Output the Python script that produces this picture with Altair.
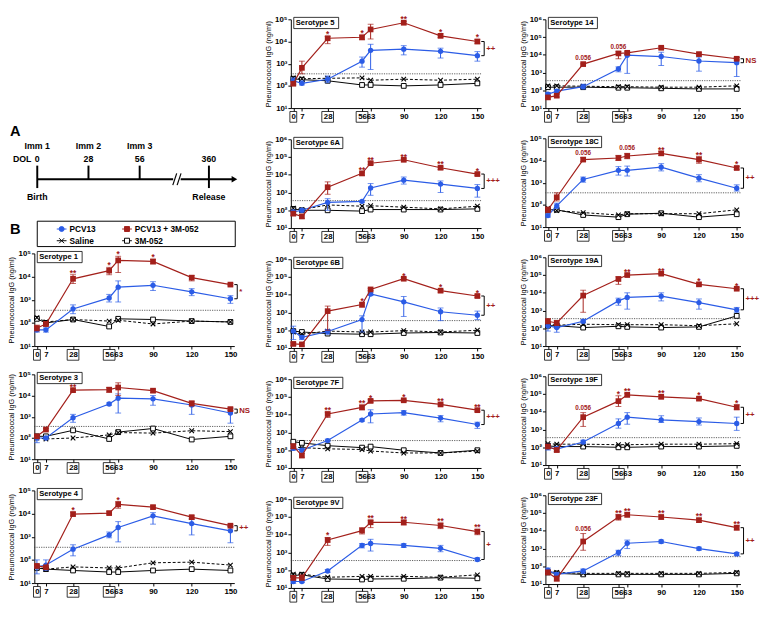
import math
import altair as alt
import pandas as pd

FONT = "Liberation Sans"
RED = "#A3201B"
BLUE = "#2B5CE6"
X_PATH = "M-1,-1L1,1M-1,1L1,-1"

DAYS = [0, 7, 28, 56, 63, 90, 120, 150]
BOXED_DAYS = [0, 28, 56]
GROUPS = ["PCV13", "PCV13 + 3M-052", "Saline", "3M-052"]
LLOQ = 350
Y_LABEL = "Pneumococcal IgG (ng/ml)"

MID = ["5", "6A", "6B", "7F", "9V"]
RIGHT = ["14", "18C", "19A", "19F", "23F"]

Y_TOP = {"1": 1e5, "3": 1e5, "4": 1e5, "5": 1e5, "6A": 1e6, "6B": 1e6, "7F": 1e6,
         "9V": 1e6, "14": 1e6, "18C": 1e5, "19A": 1e6, "19F": 1e6, "23F": 1e6}

# PCV13 (blue)
PCV13_MEAN = {
    "1": [50, 50, 400, 1200, 3500, 4200, 2200, 1100],
    "3": [100, 100, 900, 4000, 7500, 7000, 3600, 1500],
    "4": [50, 60, 290, 1200, 2500, 8000, 3700, 1800],
    "5": [170, 130, 200, 1300, 4000, 4500, 3600, 2300],
    "6A": [80, 100, 280, 320, 1800, 5000, 3000, 1700],
    "6B": [90, 40, 85, 400, 11000, 4000, 1100, 700],
    "7F": [130, 100, 350, 5000, 11000, 13000, 6500, 2800],
    "9V": [23, 23, 90, 2500, 3200, 2500, 1700, 400],
    "14": [60, 90, 160, 1600, 9500, 8000, 4500, 3600],
    "18C": [33, 90, 1400, 3600, 3600, 5000, 1600, 560],
    "19A": [140, 110, 250, 3500, 5500, 6500, 2800, 1100],
    "19F": [100, 80, 200, 2200, 5000, 3500, 2800, 2200],
    "23F": [60, 35, 55, 600, 2000, 2500, 1000, 500],
}
PCV13_HI = {
    "1": [60, 60, 600, 1700, 6500, 6000, 3000, 1500],
    "3": [120, 115, 1300, 4500, 12000, 10000, 5000, 2500],
    "4": [100, 100, 450, 1600, 4500, 11000, 5500, 2800],
    "5": [230, 170, 280, 2000, 7500, 6500, 5000, 3500],
    "6A": [100, 120, 450, 360, 3200, 7500, 4500, 2800],
    "6B": [170, 50, 110, 650, 13000, 8000, 1800, 1200],
    "7F": [160, 120, 420, 5800, 19000, 17000, 9000, 3800],
    "9V": [28, 26, 110, 3200, 5500, 3100, 2500, 500],
    "14": [75, 110, 220, 2100, 10500, 14000, 7500, 7000],
    "18C": [38, 120, 1800, 5300, 5600, 7200, 2300, 800],
    "19A": [200, 180, 300, 5000, 10000, 10000, 4500, 1500],
    "19F": [150, 110, 250, 4000, 9000, 6000, 4500, 5000],
    "23F": [80, 45, 70, 800, 3000, 3000, 1200, 600],
}
PCV13_LO = {
    "1": [40, 40, 250, 800, 800, 2500, 1500, 700],
    "3": [60, 90, 550, 3500, 1500, 3500, 1300, 500],
    "4": [25, 35, 150, 900, 600, 3500, 1200, 550],
    "5": [120, 110, 140, 700, 550, 2500, 1800, 1300],
    "6A": [60, 80, 100, 280, 700, 3000, 1000, 550],
    "6B": [30, 30, 60, 80, 9000, 600, 350, 400],
    "7F": [100, 80, 300, 4300, 3500, 9500, 4000, 1700],
    "9V": [18, 20, 75, 1800, 1200, 1900, 1100, 330],
    "14": [50, 70, 120, 1100, 900, 2500, 1200, 600],
    "18C": [28, 70, 1050, 2200, 2000, 3400, 1100, 420],
    "19A": [70, 60, 200, 2000, 1200, 3500, 1200, 800],
    "19F": [70, 60, 160, 1200, 2000, 2500, 1800, 900],
    "23F": [45, 28, 40, 400, 1000, 2000, 800, 400],
}

# PCV13 + 3M-052 (red)
COMBO_MEAN = {
    "1": [60, 90, 8000, 18000, 50000, 45000, 9000, 4500],
    "3": [120, 250, 18000, 19000, 24000, 17000, 4300, 2300],
    "4": [55, 48, 9500, 10500, 25000, 19000, 7000, 3000],
    "5": [125, 650, 14000, 15500, 35000, 70000, 18000, 10000],
    "6A": [65, 45, 2000, 12000, 45000, 70000, 25000, 11000],
    "6B": [17, 16, 1200, 2800, 20000, 80000, 17000, 8500],
    "7F": [170, 50, 11000, 26000, 60000, 65000, 38000, 18000],
    "9V": [37, 37, 5000, 17000, 50000, 50000, 33000, 15000],
    "14": [40, 50, 3000, 12000, 13000, 25000, 11000, 6000],
    "18C": [60, 220, 11000, 13000, 16000, 21000, 11000, 4600],
    "19A": [250, 200, 7000, 60000, 100000, 120000, 30000, 17000],
    "19F": [110, 70, 5000, 40000, 90000, 70000, 55000, 18000],
    "23F": [45, 20, 2500, 60000, 80000, 60000, 40000, 15000],
}
COMBO_HI = {
    "1": [80, 110, 12000, 25000, 75000, 55000, 11000, 5000],
    "3": [140, 280, 20000, 24000, 40000, 20000, 5500, 2600],
    "4": [65, 55, 11500, 12000, 33000, 22000, 8000, 3300],
    "5": [150, 1300, 17000, 19000, 60000, 80000, 22000, 12500],
    "6A": [80, 55, 4000, 14000, 55000, 80000, 30000, 13000],
    "6B": [20, 19, 2300, 3500, 23000, 90000, 20000, 10000],
    "7F": [220, 65, 14000, 35000, 70000, 75000, 45000, 21000],
    "9V": [50, 55, 7000, 25000, 65000, 62000, 45000, 20000],
    "14": [50, 60, 3300, 15000, 15000, 30000, 13000, 7000],
    "18C": [80, 350, 13500, 17000, 21000, 25000, 15000, 5400],
    "19A": [350, 280, 14000, 80000, 115000, 135000, 36000, 19000],
    "19F": [140, 90, 9000, 80000, 110000, 85000, 65000, 25000],
    "23F": [60, 28, 7000, 80000, 100000, 75000, 50000, 19000],
}
COMBO_LO = {
    "1": [45, 70, 5000, 12000, 15000, 35000, 6500, 4000],
    "3": [100, 220, 15000, 14000, 10000, 14000, 3200, 2000],
    "4": [45, 42, 8000, 9500, 17000, 16000, 6000, 2700],
    "5": [110, 350, 8000, 12000, 13000, 60000, 15000, 8000],
    "6A": [50, 35, 800, 9000, 38000, 60000, 20000, 9000],
    "6B": [14, 13, 100, 2000, 17000, 70000, 14000, 7000],
    "7F": [120, 40, 7000, 19000, 50000, 55000, 32000, 15000],
    "9V": [28, 28, 2500, 11000, 25000, 35000, 22000, 10000],
    "14": [33, 42, 2700, 6000, 11000, 21000, 9000, 5200],
    "18C": [45, 150, 9000, 10000, 12000, 17000, 7500, 3900],
    "19A": [180, 150, 800, 30000, 90000, 105000, 25000, 15000],
    "19F": [90, 55, 1500, 20000, 70000, 55000, 45000, 13000],
    "23F": [35, 15, 800, 40000, 60000, 45000, 30000, 11000],
}

SALINE_MEAN = {
    "1": [170, 110, 140, 120, 130, 90, 120, 110],
    "3": [100, 90, 100, 140, 180, 170, 220, 200],
    "4": [50, 40, 50, 45, 45, 75, 80, 60],
    "5": [230, 210, 220, 230, 180, 200, 180, 200],
    "6A": [130, 110, 200, 170, 180, 150, 120, 170],
    "6B": [80, 60, 90, 80, 80, 95, 80, 100],
    "7F": [150, 140, 120, 110, 90, 70, 70, 90],
    "9V": [60, 60, 40, 45, 45, 45, 40, 55],
    "14": [180, 180, 170, 160, 160, 150, 150, 180],
    "18C": [70, 55, 45, 35, 40, 40, 40, 60],
    "19A": [170, 150, 170, 160, 160, 160, 140, 180],
    "19F": [160, 150, 150, 140, 140, 150, 150, 160],
    "23F": [50, 45, 40, 40, 40, 40, 40, 45],
}
ADJ_MEAN = {
    "1": [150, 100, 140, 70, 150, 140, 120, 110],
    "3": [120, 120, 230, 90, 190, 280, 85, 120],
    "4": [45, 40, 35, 30, 30, 35, 40, 35],
    "5": [210, 190, 170, 110, 110, 100, 110, 130],
    "6A": [120, 100, 100, 90, 110, 110, 110, 120],
    "6B": [90, 80, 65, 60, 60, 70, 75, 70],
    "7F": [300, 260, 180, 140, 160, 100, 70, 100],
    "9V": [50, 55, 32, 30, 32, 33, 38, 35],
    "14": [150, 150, 150, 140, 140, 130, 120, 120],
    "18C": [60, 60, 35, 28, 38, 42, 28, 38],
    "19A": [140, 140, 110, 130, 120, 110, 120, 500],
    "19F": [120, 110, 110, 100, 100, 110, 110, 120],
    "23F": [45, 40, 35, 35, 35, 35, 35, 40],
}

STARS = {
    "1": ["", "", "**", "*", "*", "*", "", ""],
    "3": ["", "", "**", "", "", "", "", ""],
    "4": ["", "", "*", "", "*", "", "", ""],
    "5": ["", "", "*", "*", "", "**", "*", "*"],
    "6A": ["", "", "", "**", "**", "**", "**", "*"],
    "6B": ["", "", "", "*", "", "*", "*", "*"],
    "7F": ["", "", "**", "**", "*", "*", "**", "**"],
    "9V": ["", "", "*", "", "**", "**", "**", "**"],
    "14": ["", "", "0.056", "0.056", "", "", "", ""],
    "18C": ["", "", "0.056", "", "0.056", "**", "**", "*"],
    "19A": ["", "", "", "", "**", "**", "*", "*"],
    "19F": ["", "", "0.056", "*", "**", "**", "*", "*"],
    "23F": ["", "", "0.056", "**", "**", "**", "**", "**"],
}
GROUP_TEST = {"1": "*", "3": "NS", "4": "++", "5": "++", "6A": "+++", "6B": "++",
              "7F": "+++", "9V": "+", "14": "NS", "18C": "++", "19A": "+++",
              "19F": "++", "23F": "++"}

# timeline (panel A)
TL_DAY = [0, 28, 56, 360]
TL_IMM = ["Imm 1", "Imm 2", "Imm 3", ""]
TL_NUM = ["0", "28", "56", "360"]
TL_EVENT = ["Birth", "", "", "Release"]
TL_SEGMENTS = {"start": [0, 236], "end": [203, 470]}
TL_BREAK = [210, 229]
TL_ARROW = [472]

SUP_EXPR = ("'10' + ['\u2070','\u00b9','\u00b2','\u00b3','\u2074','\u2075','\u2076']"
            "[round(log(datum.value) / LN10)]")


def panel(sero, width, height):
    top = Y_TOP[sero]
    ndec = int(round(math.log10(top)))
    xsc = alt.Scale(domain=[-2, 153], nice=False, zero=False)
    ysc = alt.Scale(type="log", domain=[10, top], nice=False)
    xax = alt.Axis(values=DAYS, title=None, grid=False, labelFontSize=8,
                   labelFontWeight="bold", tickSize=3, labelPadding=2,
                   labelOverlap=False, labelFlush=False, domainColor="black",
                   tickColor="black", labelColor="black", labelFont=FONT)
    yax = alt.Axis(values=[10 ** k for k in range(1, ndec + 1)], title=Y_LABEL,
                   labelExpr=SUP_EXPR, grid=False, labelFontSize=8,
                   labelFontWeight="bold", tickSize=3, labelPadding=1,
                   labelOverlap=False, titleFontSize=7.5, titleFontWeight="normal",
                   titlePadding=2, domainColor="black", tickColor="black",
                   labelColor="black", titleColor="black", labelFont=FONT,
                   titleFont=FONT)

    def X(f="day"):
        return alt.X(f"{f}:Q", scale=xsc, axis=xax)

    def Y(f="mean"):
        return alt.Y(f"{f}:Q", scale=ysc, axis=yax)

    blue = pd.DataFrame({"day": DAYS, "mean": PCV13_MEAN[sero],
                         "hi": PCV13_HI[sero], "lo": PCV13_LO[sero]})
    red = pd.DataFrame({"day": DAYS, "mean": COMBO_MEAN[sero],
                        "hi": COMBO_HI[sero], "lo": COMBO_LO[sero],
                        "star": STARS[sero]})
    sal = pd.DataFrame({"day": DAYS, "mean": SALINE_MEAN[sero]})
    adj = pd.DataFrame({"day": DAYS, "mean": ADJ_MEAN[sero]})

    layers = [
        alt.Chart(pd.DataFrame({"v": [LLOQ]})).mark_rule(
            color="#333333", strokeDash=[1.2, 1.2], strokeWidth=0.8
        ).encode(y=alt.Y("v:Q", scale=ysc, axis=yax)),
        alt.Chart(adj).mark_line(color="black", strokeWidth=1).encode(x=X(), y=Y()),
        alt.Chart(sal).mark_line(color="black", strokeWidth=1, strokeDash=[3, 2]).encode(x=X(), y=Y()),
        alt.Chart(adj).mark_point(shape="square", filled=True, fill="white", stroke="black",
                                  strokeWidth=1, size=24, opacity=1).encode(x=X(), y=Y()),
        alt.Chart(sal).mark_point(shape=X_PATH, filled=False, color="black",
                                  strokeWidth=1.1, size=22, opacity=1).encode(x=X(), y=Y()),
    ]
    for df, color, shape, size in [(blue, BLUE, "circle", 30), (red, RED, "square", 34)]:
        layers += [
            alt.Chart(df).mark_rule(color=color, strokeWidth=1).encode(x=X(), y=Y("lo"), y2="hi"),
            alt.Chart(df).mark_tick(color=color, orient="horizontal", size=6, thickness=1).encode(x=X(), y=Y("hi")),
            alt.Chart(df).mark_tick(color=color, orient="horizontal", size=6, thickness=1).encode(x=X(), y=Y("lo")),
            alt.Chart(df).mark_line(color=color, strokeWidth=1.2).encode(x=X(), y=Y()),
            alt.Chart(df).mark_point(shape=shape, filled=True, color=color, size=size,
                                     opacity=1).encode(x=X(), y=Y()),
        ]
    stars = red[red["star"].str.contains(r"\*")]
    pvals = red[red["star"].str.contains(r"\.")]
    if len(stars):
        layers.append(alt.Chart(stars).mark_text(color=RED, fontWeight="bold", fontSize=8.5,
                                                 baseline="bottom", dy=3).encode(
            x=X(), y=Y("hi"), text="star:N"))
    if len(pvals):
        layers.append(alt.Chart(pvals).mark_text(color=RED, fontWeight="bold", fontSize=6.5,
                                                 baseline="bottom", dy=-2).encode(
            x=X(), y=Y("hi"), text="star:N"))

    r_last, b_last = COMBO_MEAN[sero][-1], PCV13_MEAN[sero][-1]
    last = pd.DataFrame({"day": [DAYS[-1]], "r": [r_last], "b": [b_last],
                         "g": [math.sqrt(r_last * b_last)], "t": [GROUP_TEST[sero]]})
    layers += [
        alt.Chart(last).mark_rule(color="black", strokeWidth=1, xOffset=7).encode(
            x=X(), y=Y("r"), y2="b"),
        alt.Chart(last).mark_rule(color="black", strokeWidth=1, xOffset=4, x2Offset=7).encode(
            x=X(), x2="day", y=Y("r")),
        alt.Chart(last).mark_rule(color="black", strokeWidth=1, xOffset=4, x2Offset=7).encode(
            x=X(), x2="day", y=Y("b")),
        alt.Chart(last).mark_text(color=RED, fontWeight="bold", fontSize=8, align="left",
                                  dx=9, baseline="middle").encode(x=X(), y=Y("g"), text="t:N"),
    ]

    name = f"Serotype {sero}"
    lab = alt.Chart(pd.DataFrame({"t": [name]}))
    bw = 4.3 * len(name) + 3
    layers += [
        lab.mark_rect(fill="white", stroke="black", strokeWidth=0.8).encode(
            x=alt.value(3), x2=alt.value(3 + bw), y=alt.value(-2), y2=alt.value(9.5)),
        lab.mark_text(align="left", baseline="middle", fontSize=7.8, fontWeight="bold",
                      color="black").encode(x=alt.value(5), y=alt.value(4), text="t:N"),
    ]

    boxes = pd.DataFrame({"day": BOXED_DAYS})
    layers += [
        alt.Chart(boxes[boxes.day == 0]).mark_rect(
            fillOpacity=0, stroke="black", strokeWidth=0.8, xOffset=-3.5, x2Offset=3.5
        ).encode(x=X(), x2="day", y=alt.value(height + 3.5), y2=alt.value(height + 14.5)),
        alt.Chart(boxes[boxes.day > 0]).mark_rect(
            fillOpacity=0, stroke="black", strokeWidth=0.8, xOffset=-6, x2Offset=6
        ).encode(x=X(), x2="day", y=alt.value(height + 3.5), y2=alt.value(height + 14.5)),
    ]
    return alt.layer(*layers).properties(width=width, height=height)


def timeline_and_legend():
    tlsc = alt.Scale(domain=[0, 56, 360], range=[3, 108, 179])
    TX = lambda f: alt.X(f"{f}:Q", scale=tlsc, axis=None)
    tl = pd.DataFrame({"day": TL_DAY, "imm": TL_IMM, "num": TL_NUM, "event": TL_EVENT})
    seg = pd.DataFrame(TL_SEGMENTS)
    brk = pd.DataFrame({"day": TL_BREAK})
    arr = pd.DataFrame({"day": TL_ARROW})
    leg = pd.DataFrame({"name": GROUPS, "col": [0, 1, 0, 1], "row": [0, 0, 1, 1]})
    LX = alt.X("col:Q", scale=alt.Scale(domain=[0, 1], range=[28, 95]), axis=None)
    LY = alt.Y("row:Q", scale=alt.Scale(domain=[0, 1], range=[215, 227]), axis=None)
    shape_sc = alt.Scale(domain=GROUPS, range=["circle", "square", X_PATH, "square"])
    fill_sc = alt.Scale(domain=GROUPS, range=[BLUE, RED, "transparent", "white"])
    stroke_sc = alt.Scale(domain=GROUPS, range=[BLUE, RED, "black", "black"])
    txt = dict(fontWeight="bold", fontSize=9, color="black")
    letters = alt.Chart(pd.DataFrame({"t": ["A", "B"], "r": [0, 1]}))
    layers = [
        letters.mark_text(align="left", baseline="middle", fontWeight="bold", fontSize=15,
                          color="black").encode(
            x=alt.value(-25),
            y=alt.Y("r:Q", scale=alt.Scale(domain=[0, 1], range=[115, 215]), axis=None),
            text="t:N"),
        alt.Chart(seg).mark_rule(color="black", strokeWidth=2).encode(
            x=TX("start"), x2="end", y=alt.value(164)),
        alt.Chart(tl[tl.event != ""]).mark_rule(color="black", strokeWidth=2).encode(
            x=TX("day"), y=alt.value(150), y2=alt.value(173)),
        alt.Chart(tl[tl.event == ""]).mark_rule(color="black", strokeWidth=2).encode(
            x=TX("day"), y=alt.value(150), y2=alt.value(164)),
        alt.Chart(brk).mark_rule(color="black", strokeWidth=1.2, xOffset=-2, x2Offset=2).encode(
            x=TX("day"), x2="day", y=alt.value(170), y2=alt.value(158)),
        alt.Chart(arr).mark_point(shape="triangle-right", filled=True, color="black",
                                  size=45, opacity=1).encode(x=TX("day"), y=alt.value(164)),
        alt.Chart(tl).mark_text(baseline="middle", **txt).encode(
            x=TX("day"), y=alt.value(130), text="imm:N"),
        alt.Chart(tl).mark_text(baseline="middle", **txt).encode(
            x=TX("day"), y=alt.value(143), text="num:N"),
        alt.Chart(tl).mark_text(baseline="middle", **txt).encode(
            x=TX("day"), y=alt.value(182), text="event:N"),
        alt.Chart(pd.DataFrame({"t": ["DOL"]})).mark_text(align="right", baseline="middle", **txt).encode(
            x=alt.value(-3), y=alt.value(143), text="t:N"),
        alt.Chart(pd.DataFrame({"t": [""]})).mark_rect(fillOpacity=0, stroke="black", strokeWidth=1).encode(
            x=alt.value(3), x2=alt.value(206), y=alt.value(207), y2=alt.value(233)),
        alt.Chart(leg).mark_rule(strokeWidth=1, xOffset=-5, x2Offset=5).encode(
            x=LX, x2="col", y=LY, stroke=alt.Stroke("name:N", scale=stroke_sc, legend=None)),
        alt.Chart(leg).mark_point(size=26, strokeWidth=1, opacity=1, filled=False).encode(
            x=LX, y=LY,
            shape=alt.Shape("name:N", scale=shape_sc, legend=None),
            fill=alt.Fill("name:N", scale=fill_sc, legend=None),
            stroke=alt.Stroke("name:N", scale=stroke_sc, legend=None)),
        alt.Chart(leg).mark_text(align="left", baseline="middle", dx=8, fontWeight="bold",
                                 fontSize=8.5, color="black").encode(x=LX, y=LY, text="name:N"),
    ]
    return alt.layer(*layers).resolve_scale(x="independent", y="independent").properties(
        width=210, height=236)


left_col = alt.vconcat(
    timeline_and_legend(),
    alt.vconcat(
        panel("1", 205, 95),
        alt.vconcat(panel("3", 205, 87), panel("4", 205, 95), spacing=13),
        spacing=10,
    ),
    spacing=0,
)
mid_col = alt.vconcat(*[panel(s, 195, 91) for s in MID], spacing=13)
right_col = alt.vconcat(*[panel(s, 200, 91) for s in RIGHT], spacing=12)

chart = alt.hconcat(
    left_col, alt.hconcat(mid_col, right_col, spacing=19), spacing=14
).properties(
    padding={"left": 0, "top": 0, "right": 0, "bottom": 0}
).configure_view(stroke=None).configure_text(font=FONT).configure_axis(
    labelFont=FONT, titleFont=FONT)

chart.save("out.html", embed_options={"renderer": "svg", "actions": False})
